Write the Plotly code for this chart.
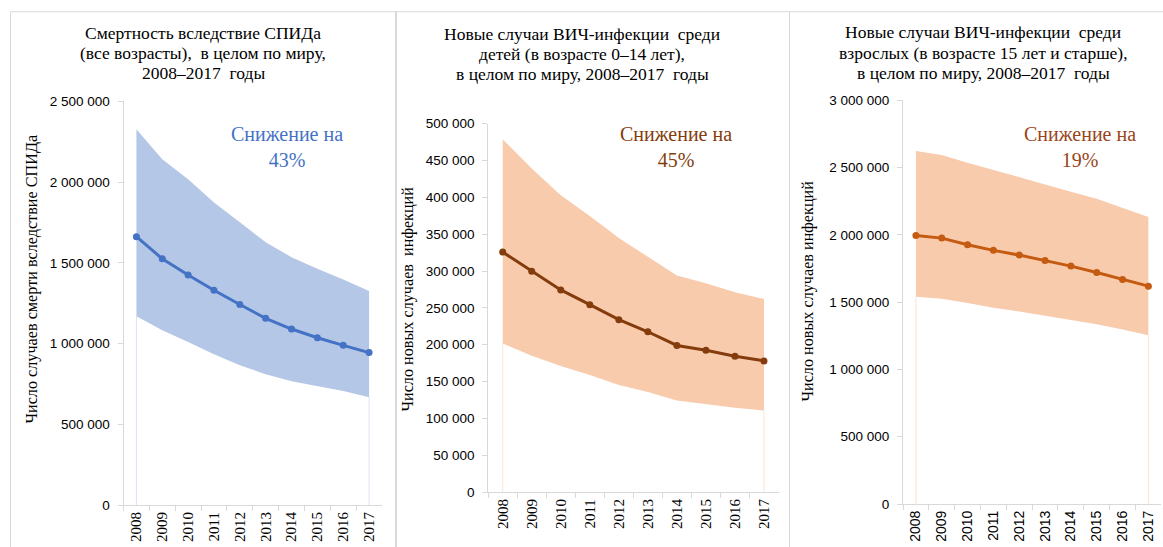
import plotly.graph_objects as go

years = ["2008", "2009", "2010", "2011", "2012", "2013", "2014", "2015", "2016", "2017"]

# Panel 1: AIDS-related deaths (all ages)
deaths_mid = [1662000, 1525000, 1425000, 1330000, 1242000, 1156000, 1090000, 1036000, 989000, 944000]
deaths_low = [1169000, 1082000, 1010000, 934000, 866000, 810000, 767000, 738000, 706000, 667000]
deaths_high = [2327000, 2142000, 2018000, 1874000, 1751000, 1627000, 1535000, 1463000, 1397000, 1325000]

# Panel 2: new HIV infections among children (0-14)
child_mid = [325700, 299800, 274400, 254400, 234000, 217600, 199000, 192600, 184500, 178100]
child_low = [201800, 184900, 171300, 159000, 145400, 135800, 124500, 119100, 114600, 110900]
child_high = [479000, 439000, 402900, 374800, 344800, 319800, 293900, 283500, 271200, 262100]

# Panel 3: new HIV infections among adults (15+)
adult_mid = [1996000, 1976000, 1927000, 1885000, 1850000, 1810000, 1768000, 1721000, 1669000, 1619000]
adult_low = [1540000, 1525000, 1493000, 1458000, 1431000, 1401000, 1369000, 1336000, 1297000, 1255000]
adult_high = [2624000, 2594000, 2537000, 2482000, 2428000, 2376000, 2321000, 2269000, 2202000, 2133000]

titles = [
    ["Смертность вследствие СПИДа", "(все возрасты),  в целом по миру,", "2008–2017  годы"],
    ["Новые случаи ВИЧ-инфекции  среди", "детей (в возрасте 0–14 лет),", "в целом по миру, 2008–2017  годы"],
    ["Новые случаи ВИЧ-инфекции  среди", "взрослых (в возрасте 15 лет и старше),", "в целом по миру, 2008–2017  годы"],
]
ytitles = [
    "Число случаев смерти вследствие СПИДа",
    "Число новых случаев  инфекций",
    "Число новых случаев инфекций",
]
notes = ["Снижение на<br>43%", "Снижение на<br>45%", "Снижение на<br>19%"]
y_max = [2500000, 500000, 3000000]
y_dtick = [500000, 50000, 500000]

W, H = 1163, 547
SCALE_Y = 547.0 / 563.0
OFF_Y = 8.0

def px_x(v):
    return v / W

def px_y(v):
    return 1 - (v / SCALE_Y - OFF_Y) / H

panels = [
    dict(mid=deaths_mid, low=deaths_low, high=deaths_high,
         band="#B4C7E7", line="#4472C4", note_col="#4472C4", edge="#DAE3F3",
         xd=[px_x(123.5), px_x(382)], yd=[px_y(505.3), px_y(102)],
         title_x=203, title_y=[34, 54, 74], ytitle_x=32, ytitle_y=280,
         note_x=287, note_y=148, xfont="Liberation Serif", xsize=15),
    dict(mid=child_mid, low=child_low, high=child_high,
         band="#F8CBAD", line="#843C0C", note_col="#843C0C", edge="#FBE5D6",
         xd=[px_x(488.2), px_x(778.5)], yd=[px_y(492.4), px_y(124.3)],
         title_x=582, title_y=[35, 55, 75], ytitle_x=408, ytitle_y=300,
         note_x=676, note_y=148, xfont="Liberation Serif", xsize=15),
    dict(mid=adult_mid, low=adult_low, high=adult_high,
         band="#F8CBAD", line="#C55A11", note_col="#99451A", edge="#FBE5D6",
         xd=[px_x(903), px_x(1161.3)], yd=[px_y(504.3), px_y(101)],
         title_x=983, title_y=[33, 54, 74], ytitle_x=808, ytitle_y=292,
         note_x=1080, note_y=148, xfont="Liberation Sans", xsize=14),
]

fig = go.Figure()
annotations = []
shapes = []

for i, p in enumerate(panels):
    n = i + 1
    xa = "x" if n == 1 else f"x{n}"
    ya = "y" if n == 1 else f"y{n}"
    # faint edges of the band down to zero
    fig.add_trace(go.Scatter(
        x=[years[0], years[0], None, years[-1], years[-1]],
        y=[0, p["low"][0], None, 0, p["low"][-1]],
        mode="lines", line=dict(color=p["edge"], width=1),
        xaxis=xa, yaxis=ya, showlegend=False, hoverinfo="skip"))
    fig.add_trace(go.Scatter(
        x=years, y=p["low"], mode="lines", line=dict(width=0, color=p["band"]),
        xaxis=xa, yaxis=ya, showlegend=False, hoverinfo="skip"))
    fig.add_trace(go.Scatter(
        x=years, y=p["high"], mode="lines", line=dict(width=0, color=p["band"]),
        fill="tonexty", fillcolor=p["band"],
        xaxis=xa, yaxis=ya, showlegend=False))
    fig.add_trace(go.Scatter(
        x=years, y=p["mid"], mode="lines+markers",
        line=dict(color=p["line"], width=3), marker=dict(color=p["line"], size=7),
        xaxis=xa, yaxis=ya, showlegend=False))

    xkey = "xaxis" if n == 1 else f"xaxis{n}"
    ykey = "yaxis" if n == 1 else f"yaxis{n}"
    fig.update_layout(**{
        xkey: dict(domain=p["xd"], anchor=ya, type="category", range=[-0.5, 9.5],
                   categoryorder="array", categoryarray=years,
                   tickson="boundaries", ticks="outside", ticklen=5, tickcolor="#D9D9D9",
                   showline=True, linecolor="#D9D9D9", linewidth=1, showgrid=False,
                   tickangle=-90, tickfont=dict(family=p["xfont"], size=p["xsize"], color="#000000"),
                   zeroline=False),
        ykey: dict(domain=p["yd"], anchor=xa, range=[0, y_max[i]], dtick=y_dtick[i], tick0=0,
                   ticks="outside", ticklen=5, tickcolor="#D9D9D9", ticklabelstandoff=5,
                   showline=True, linecolor="#D9D9D9", linewidth=1, showgrid=False,
                   zeroline=False, tickformat=",d",
                   tickfont=dict(family="Liberation Sans", size=13.5, color="#000000")),
    })
    for line_text, ly in zip(titles[i], p["title_y"]):
        annotations.append(dict(
            text=line_text, x=px_x(p["title_x"]), y=px_y(ly), xref="paper", yref="paper",
            xanchor="center", yanchor="middle", showarrow=False, align="center",
            font=dict(family="Liberation Serif", size=17.5, color="#000000")))
    annotations.append(dict(
        text=ytitles[i], x=px_x(p["ytitle_x"]), y=px_y(p["ytitle_y"]), xref="paper", yref="paper",
        xanchor="center", yanchor="middle", showarrow=False, textangle=-90,
        font=dict(family="Liberation Serif", size=16.2, color="#000000")))
    annotations.append(dict(
        text=notes[i], x=px_x(p["note_x"]), y=px_y(p["note_y"]), xref="paper", yref="paper",
        xanchor="center", yanchor="middle", showarrow=False, align="center",
        font=dict(family="Liberation Serif", size=20, color=p["note_col"])))

# panel frames
for x0, x1 in [(10.5, 396.5), (395.5, 789.5), (789.5, 1170)]:
    shapes.append(dict(type="rect", xref="paper", yref="paper",
                       x0=px_x(x0), x1=px_x(x1), y0=-0.2, y1=px_y(12.5),
                       line=dict(color="#D9D9D9", width=1), fillcolor="rgba(0,0,0,0)", layer="below"))

fig.update_layout(
    width=W, height=H, margin=dict(l=0, r=0, t=0, b=0),
    paper_bgcolor="white", plot_bgcolor="rgba(0,0,0,0)",
    separators=", ", annotations=annotations, shapes=shapes, showlegend=False,
)

fig.write_html(
    "out.html",
    config={"displayModeBar": False},
    post_script="document.body.style.margin='0';document.body.style.overflow='hidden';",
)
